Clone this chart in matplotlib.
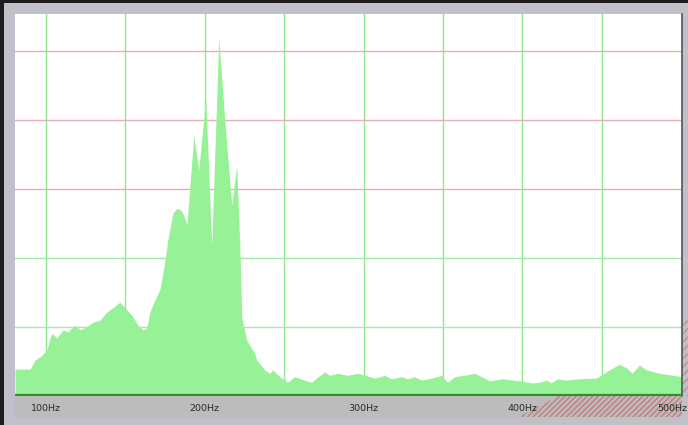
"""
Spectrum analyzer screenshot recreation - voice spectrum, 80-500 Hz
"""

import matplotlib
matplotlib.use('Agg')
import matplotlib.pyplot as plt
from matplotlib.patches import Rectangle, Polygon

# Spectrum envelope (level in grid divisions, 0 = baseline)
freq_hz = [80.5, 89.9, 93.1, 97.5, 100.6, 102.5, 103.8, 106.9, 110.7, 113.8,
           118.2, 121.4, 124.5, 129.6, 134.0, 138.4, 142.1, 146.5, 149.7, 154.1,
           157.9, 161.0, 163.5, 165.4, 168.6, 171.7, 174.8, 176.7, 179.9, 182.4,
           184.9, 186.8, 188.7, 193.1, 196.2, 200.6, 204.4, 208.8, 212.6, 217.0,
           220.1, 222.0, 223.3, 226.4, 231.4, 232.7, 237.7, 240.9, 242.8, 247.2,
           250.3, 252.2, 256.6, 262.9, 267.3, 270.4, 275.5, 278.6, 283.6, 289.9,
           296.2, 302.5, 306.9, 313.2, 317.6, 323.9, 327.7, 332.1, 336.5, 342.8,
           349.1, 352.8, 357.2, 363.5, 369.8, 376.1, 379.2, 387.4, 398.1, 406.3,
           410.7, 415.1, 418.2, 422.0, 427.7, 435.8, 446.5, 452.8, 461.0, 465.4,
           469.2, 473.6, 478.0, 486.2, 500.5]
level = [0.39, 0.39, 0.52, 0.59, 0.67, 0.84, 0.91, 0.84, 0.96, 0.93,
         1.03, 0.96, 0.99, 1.07, 1.10, 1.22, 1.28, 1.36, 1.28, 1.17,
         1.03, 0.96, 0.99, 1.22, 1.39, 1.54, 1.94, 2.26, 2.65, 2.72,
         2.70, 2.62, 2.48, 3.78, 3.28, 4.32, 2.19, 5.20, 4.00, 2.77,
         3.35, 2.22, 1.14, 0.81, 0.62, 0.52, 0.38, 0.33, 0.38, 0.28,
         0.23, 0.20, 0.28, 0.23, 0.20, 0.26, 0.35, 0.30, 0.33, 0.30,
         0.33, 0.29, 0.26, 0.30, 0.25, 0.28, 0.25, 0.28, 0.23, 0.26,
         0.30, 0.20, 0.28, 0.30, 0.33, 0.26, 0.22, 0.25, 0.22, 0.19,
         0.20, 0.23, 0.19, 0.25, 0.23, 0.25, 0.26, 0.35, 0.46, 0.41,
         0.33, 0.45, 0.38, 0.33, 0.28]
assert len(freq_hz) == len(level)

# Axis labels and grid
tick_hz = [100, 200, 300, 400, 500]
tick_labels = ['100Hz', '200Hz', '300Hz', '400Hz', '500Hz']
vgrid_hz = [100, 150, 200, 250, 300, 350, 400, 450]
hgrid_green = [1, 2]
hgrid_red = [3, 4, 5]

W, H = 688, 425
fig = plt.figure(figsize=(W / 100, H / 100), dpi=100, facecolor='#c0c0c8')

# dark outer frame (top and left)
fig.patches.append(Rectangle((0, 0), 4 / W, 1, transform=fig.transFigure,
                             facecolor='#1e1b1d', edgecolor='none'))
fig.patches.append(Rectangle((0, 1 - 3 / H), 1, 3 / H, transform=fig.transFigure,
                             facecolor='#1e1b1d', edgecolor='none'))
# reddish hatch at right edge
fig.patches.append(Rectangle((683 / W, 29 / H), 5 / W, 76 / H, transform=fig.transFigure,
                             facecolor='none', edgecolor='#c98b8b', hatch='////',
                             linewidth=0))

# main plot area
ax = fig.add_axes([15 / W, 29 / H, 667 / W, 382 / H])
ax.set_facecolor('white')
ax.set_xlim(80.5, 500.5)
ax.set_ylim(0, 5.54)

for f in vgrid_hz:
    ax.axvline(f, color='#8ee68e', linewidth=1.0, zorder=1)
for g in hgrid_green:
    ax.axhline(g, color='#a6e8a6', linewidth=1.0, zorder=1)
for g in hgrid_red:
    ax.axhline(g, color='#e3b0b4', linewidth=1.0, zorder=1)

ax.fill_between(freq_hz, 0, level, color='#97f297', linewidth=0, zorder=2)
ax.axhline(0.01, color='#2f8f2f', linewidth=1.6, zorder=3)

ax.set_xticks([])
ax.set_yticks([])
for side in ['top', 'left', 'bottom']:
    ax.spines[side].set_visible(False)
ax.spines['right'].set_color('#555555')
ax.spines['right'].set_linewidth(1.2)

# bottom frequency strip
sx = fig.add_axes([15 / W, 8 / H, 667 / W, 21 / H])
sx.set_facecolor('#bcbcbc')
sx.set_xlim(80.5, 500.5)
sx.set_ylim(0, 1)
sx.set_xticks([])
sx.set_yticks([])
for side in sx.spines.values():
    side.set_visible(False)

sx.add_patch(Polygon([(0.755, 0.0), (0.815, 1.0), (1.0, 1.0), (1.0, 0.0)],
                     closed=True, transform=sx.transAxes, facecolor='none',
                     edgecolor='#c97a7a', hatch='//////', linewidth=0))

for f, lab in zip(tick_hz, tick_labels):
    xpos = min(f, 494.5)
    sx.text(xpos, 0.42, lab, ha='center', va='center', fontsize=6.8,
            color='#2a2a2a', family='DejaVu Sans')

fig.savefig('out.png', dpi=100, facecolor=fig.get_facecolor())
